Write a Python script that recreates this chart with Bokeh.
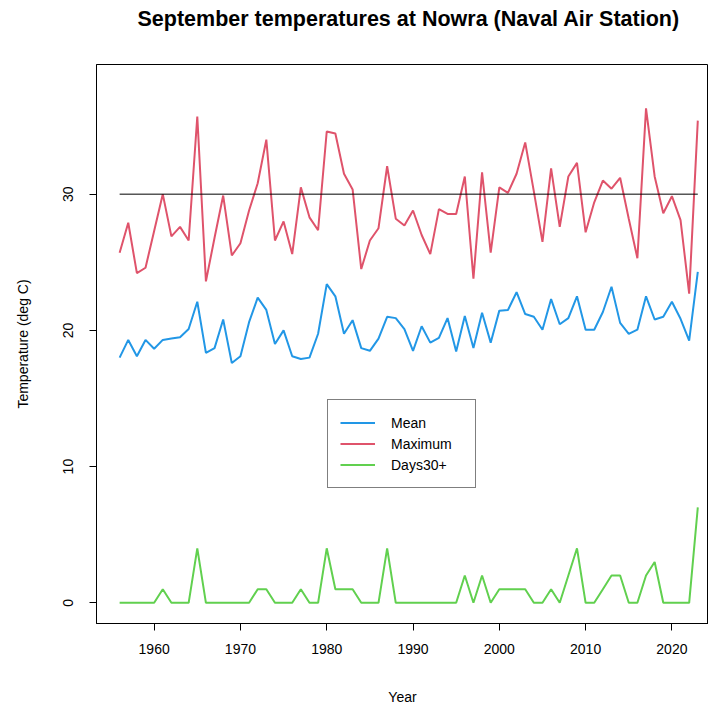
from bokeh.plotting import figure
from bokeh.models import Range1d, FixedTicker, Legend, LegendItem, ColumnDataSource, Title
from bokeh.embed import file_html
from bokeh.resources import INLINE

years = list(range(1956, 2024))

mean_temp = [18.0, 19.3, 18.1, 19.3, 18.65, 19.3, 19.4, 19.5, 20.1, 22.1,
             18.35, 18.7, 20.8, 17.6, 18.1, 20.6, 22.4, 21.5, 19.0, 20.0,
             18.1, 17.9, 18.0, 19.75, 23.4, 22.5, 19.75, 20.75, 18.7, 18.5,
             19.4, 21.0, 20.9, 20.1, 18.5, 20.3, 19.1, 19.45, 20.9, 18.45,
             21.05, 18.7, 21.3, 19.1, 21.45, 21.5, 22.8, 21.2, 21.0, 20.05,
             22.3, 20.45, 20.9, 22.5, 20.05, 20.05, 21.35, 23.2, 20.55, 19.75,
             20.05, 22.5, 20.8, 21.0, 22.1, 20.85, 19.25, 24.3]

max_temp = [25.7, 27.9, 24.2, 24.6, 27.3, 30.0, 26.9, 27.6, 26.6, 35.7,
            23.6, 26.8, 29.9, 25.5, 26.4, 28.8, 30.8, 34.0, 26.6, 28.0,
            25.6, 30.5, 28.3, 27.35, 34.6, 34.45, 31.5, 30.35, 24.5, 26.6,
            27.5, 32.05, 28.2, 27.7, 28.8, 27.0, 25.6, 28.9, 28.55, 28.55,
            31.3, 23.8, 31.6, 25.7, 30.5, 30.1, 31.5, 33.8, 30.2, 26.5,
            31.9, 27.6, 31.3, 32.3, 27.2, 29.4, 31.0, 30.4, 31.2, 28.2,
            25.3, 36.3, 31.3, 28.6, 29.85, 28.1, 22.7, 35.4]

days30 = [0, 0, 0, 0, 0, 1, 0, 0, 0, 4,
          0, 0, 0, 0, 0, 0, 1, 1, 0, 0,
          0, 1, 0, 0, 4, 1, 1, 1, 0, 0,
          0, 4, 0, 0, 0, 0, 0, 0, 0, 0,
          2, 0, 2, 0, 1, 1, 1, 1, 0, 0,
          1, 0, 2, 4, 0, 0, 1, 2, 2, 0,
          0, 2, 3, 0, 0, 0, 0, 7]

threshold = 30
x_ticks = [1960, 1970, 1980, 1990, 2000, 2010, 2020]
y_ticks = [0, 10, 20, 30]
title_text = "September temperatures at Nowra (Naval Air Station)"

FONT = "Liberation Sans"

p = figure(width=708, height=707, output_backend="svg", toolbar_location=None,
           x_range=Range1d(1953.32, 2024.24), y_range=Range1d(-1.52, 39.52),
           min_border_left=96, min_border_right=0, min_border_top=64,
           min_border_bottom=84, title=title_text)

p.title.text_font = FONT
p.title.text_font_size = "21.5px"
p.title.text_font_style = "bold"
p.title.text_color = "black"
p.title.align = "left"
p.title.offset = 41
p.title.standoff = 0

# empty spacer between the title and the frame
spacer = Title(text=" ", text_font_size="1px", standoff=31)
p.add_layout(spacer, "above")

p.grid.visible = False
p.outline_line_color = "black"
p.outline_line_width = 1
p.background_fill_color = "white"
p.border_fill_color = "white"

for ax in (p.xaxis[0], p.yaxis[0]):
    ax.axis_line_color = "black"
    ax.major_tick_line_color = "black"
    ax.major_tick_out = 7
    ax.major_tick_in = 0
    ax.minor_tick_line_color = None
    ax.major_label_text_font = FONT
    ax.major_label_text_font_size = "14px"
    ax.major_label_text_color = "black"
    ax.axis_label_text_font = FONT
    ax.axis_label_text_font_size = "14px"
    ax.axis_label_text_font_style = "normal"
    ax.axis_label_text_color = "black"

p.xaxis.ticker = FixedTicker(ticks=x_ticks)
p.yaxis.ticker = FixedTicker(ticks=y_ticks)
p.xaxis.axis_label = "Year"
p.yaxis.axis_label = "Temperature (deg C)"
p.xaxis.major_label_standoff = 13
p.xaxis.axis_label_standoff = 32
p.yaxis.major_label_orientation = "vertical"
p.yaxis.major_label_standoff = 16
p.yaxis.axis_label_standoff = 30

src = ColumnDataSource(dict(year=years, mean=mean_temp, mx=max_temp, d30=days30))

r_mean = p.line("year", "mean", source=src, line_color="#2297E6", line_width=2)
r_max = p.line("year", "mx", source=src, line_color="#DF536B", line_width=2)
r_d30 = p.line("year", "d30", source=src, line_color="#61D04F", line_width=2)

p.segment(x0=[years[0]], y0=[threshold], x1=[years[-1]], y1=[threshold],
          line_color="black", line_width=1)

legend = Legend(items=[LegendItem(label="Mean", renderers=[r_mean]),
                       LegendItem(label="Maximum", renderers=[r_max]),
                       LegendItem(label="Days30+", renderers=[r_d30])],
                location=(231, 135))
legend.border_line_color = "black"
legend.border_line_width = 1
legend.background_fill_color = "white"
legend.background_fill_alpha = 1
legend.padding = 12
legend.margin = 0
legend.spacing = 0
legend.label_height = 21
legend.glyph_height = 21
legend.glyph_width = 35
legend.label_standoff = 16
legend.label_width = 72
legend.label_text_font = FONT
legend.label_text_font_size = "14px"
legend.label_text_color = "black"
p.add_layout(legend, "center")

open("out.html", "w").write(file_html(p, INLINE))
